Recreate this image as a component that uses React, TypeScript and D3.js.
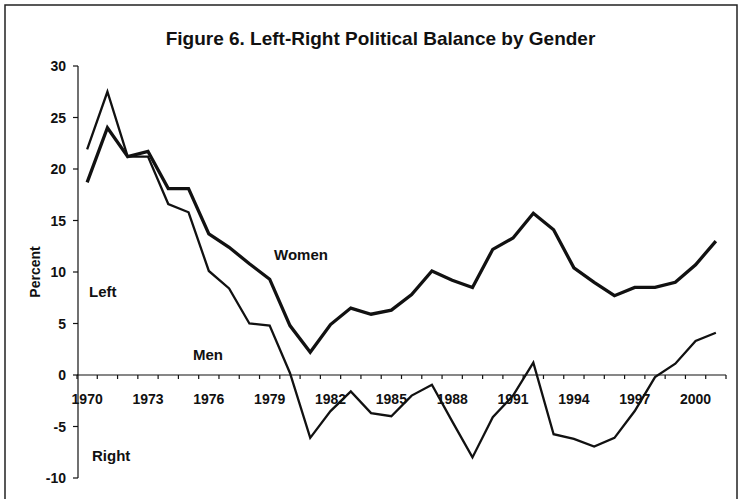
import React from "react";
import * as d3 from "d3";

const years: number[] = [
  1970, 1971, 1972, 1973, 1974, 1975, 1976, 1977, 1978, 1979, 1980, 1981, 1982, 1983, 1984, 1985,
  1986, 1987, 1988, 1989, 1990, 1991, 1992, 1993, 1994, 1995, 1996, 1997, 1998, 1999, 2000, 2001,
];
const women: number[] = [
  18.7, 24.0, 21.2, 21.7, 18.1, 18.1, 13.7, 12.4, 10.8, 9.3, 4.8, 2.2, 4.9, 6.5, 5.9, 6.3,
  7.8, 10.1, 9.2, 8.5, 12.2, 13.3, 15.7, 14.1, 10.4, 9.0, 7.7, 8.5, 8.5, 9.0, 10.7, 13.0,
];
const men: number[] = [
  21.9, 27.5, 21.2, 21.2, 16.6, 15.8, 10.1, 8.4, 5.0, 4.8, 0.2, -6.1, -3.5, -1.6, -3.7, -4.0,
  -2.0, -0.95, -4.5, -8.0, -4.1, -2.0, 1.2, -5.75, -6.2, -6.95, -6.1, -3.5, -0.2, 1.1, 3.3, 4.1,
];
const yTicks: number[] = [-10, -5, 0, 5, 10, 15, 20, 25, 30];
const xLabelYears: number[] = [1970, 1973, 1976, 1979, 1982, 1985, 1988, 1991, 1994, 1997, 2000];
const title = "Figure 6. Left-Right Political Balance by Gender";

const W = 742;
const H = 499;
const FONT = "'Liberation Sans', Arial, Helvetica, sans-serif";

export default function App() {
  const x = d3.scaleBand<number>().domain(years).range([77, 726]).padding(0);
  const bw = x.bandwidth();
  const cx = (yr: number) => (x(yr) as number) + bw / 2;
  const y = d3.scaleLinear().domain([-10, 30]).range([478, 66]);

  const line = d3
    .line<number>()
    .x((_, i) => cx(years[i]))
    .y((d) => y(d));

  const boundaries = years.map((yr) => x(yr) as number).concat([(x(years[years.length - 1]) as number) + bw]);

  return (
    <svg
      width={W}
      height={H}
      style={{ position: "absolute", left: 0, top: 0, background: "#fff" }}
    >
      <rect x={0} y={0} width={W} height={H} fill="#fff" />
      <rect x={5} y={5} width={732} height={520} fill="none" stroke="#222" strokeWidth={1.5} />
      <text
        x={380.5}
        y={45}
        textAnchor="middle"
        fontFamily={FONT}
        fontWeight="bold"
        fontSize={19}
        fill="#111"
      >
        {title}
      </text>

      {/* Y axis */}
      <line x1={78} x2={78} y1={y(30)} y2={y(-10)} stroke="#111" strokeWidth={1.2} />
      {yTicks.map((t) => (
        <g key={t}>
          <line x1={73} x2={78} y1={y(t)} y2={y(t)} stroke="#111" strokeWidth={1.2} />
          <text
            x={66}
            y={y(t)}
            dy="0.36em"
            textAnchor="end"
            fontFamily={FONT}
            fontWeight="bold"
            fontSize={14}
            fill="#111"
          >
            {t}
          </text>
        </g>
      ))}
      <text
        transform={`translate(40, 272) rotate(-90)`}
        textAnchor="middle"
        fontFamily={FONT}
        fontWeight="bold"
        fontSize={14}
        fill="#111"
      >
        Percent
      </text>

      {/* X axis */}
      <line x1={77} x2={726} y1={y(0)} y2={y(0)} stroke="#111" strokeWidth={1.2} />
      {boundaries.map((b, i) => (
        <line key={i} x1={b} x2={b} y1={y(0)} y2={y(0) + 4} stroke="#111" strokeWidth={1.2} />
      ))}
      {xLabelYears.map((yr) => (
        <text
          key={yr}
          x={cx(yr)}
          y={404}
          textAnchor="middle"
          fontFamily={FONT}
          fontWeight="bold"
          fontSize={14}
          fill="#111"
        >
          {yr}
        </text>
      ))}

      {/* Lines */}
      <path d={line(men) as string} fill="none" stroke="#111" strokeWidth={2.3} strokeLinejoin="miter" />
      <path d={line(women) as string} fill="none" stroke="#111" strokeWidth={3.3} strokeLinejoin="miter" />

      {/* Annotations */}
      <text x={274} y={260} fontFamily={FONT} fontWeight="bold" fontSize={15} fill="#111">
        Women
      </text>
      <text x={193} y={360} fontFamily={FONT} fontWeight="bold" fontSize={15} fill="#111">
        Men
      </text>
      <text x={89} y={297} fontFamily={FONT} fontWeight="bold" fontSize={15} fill="#111">
        Left
      </text>
      <text x={92} y={461} fontFamily={FONT} fontWeight="bold" fontSize={15} fill="#111">
        Right
      </text>
    </svg>
  );
}
